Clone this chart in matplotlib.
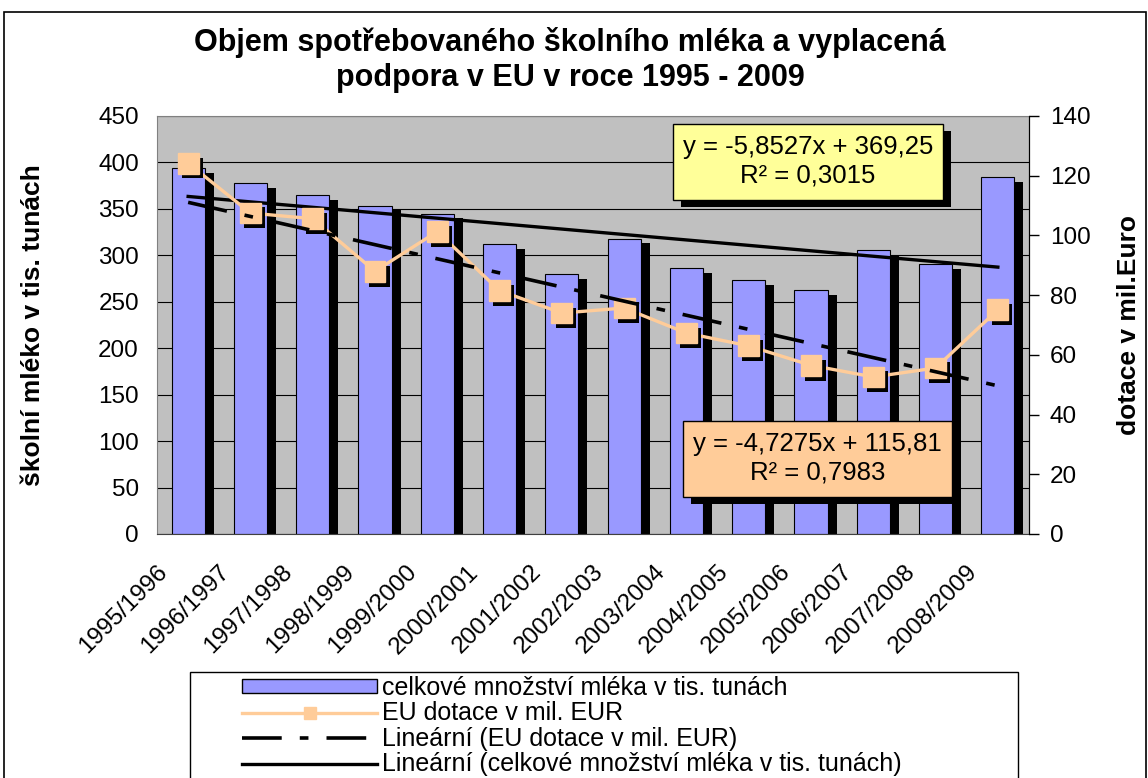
import numpy as np
import matplotlib
matplotlib.use('Agg')
import matplotlib.pyplot as plt
import matplotlib.patheffects as pe
from matplotlib.patches import Rectangle, Patch
from matplotlib.lines import Line2D
from matplotlib.transforms import ScaledTranslation

plt.rcParams['font.family'] = ['Liberation Sans', 'DejaVu Sans']

seasons = ['1995/1996', '1996/1997', '1997/1998', '1998/1999', '1999/2000',
           '2000/2001', '2001/2002', '2002/2003', '2003/2004', '2004/2005',
           '2005/2006', '2006/2007', '2007/2008', '2008/2009']
# school milk volume, thousand tonnes (left axis)
milk = [393.5, 378, 365, 353.6, 345, 312, 280, 318, 286, 273, 262.6, 305.6, 290.6, 384.4]
# EU subsidy, mil. EUR (right axis)
subsidy = [124.2, 107.5, 105.6, 88, 101.3, 81.5, 74, 75.7, 67.3, 63, 56.5, 52.6, 55.6, 75.1]
# linear trends as printed on the chart (slope, intercept, R2)
milk_trend = (-5.8527, 369.25, 0.3015)
subsidy_trend = (-4.7275, 115.81, 0.7983)

labels = ['celkové množství mléka v tis. tunách',
          'EU dotace v mil. EUR',
          'Lineární (EU dotace v mil. EUR)',
          'Lineární (celkové množství mléka v tis. tunách)']

W, H = 1148, 778
fig = plt.figure(figsize=(W / 100, H / 100), dpi=100)


def fx(px):
    return px / W


def fy(py):
    return 1 - py / H


ax = fig.add_axes([fx(157), fy(534), fx(1029) - fx(157), fy(116) - fy(534)])
ax.set_facecolor('#C0C0C0')
ax2 = ax.twinx()

x = np.arange(1, len(seasons) + 1)
dash = (0, (11, 5, 2.4, 5))

ax.bar(x, milk, width=0.53, color='#9999FF', edgecolor='black', linewidth=0.8,
       path_effects=[pe.SimplePatchShadow(offset=(6.5, -3.5), shadow_rgbFace='black', alpha=1.0),
                     pe.Normal()], zorder=2)
ax.plot(x, milk_trend[0] * x + milk_trend[1], color='black', lw=2.4, zorder=3)

ax.set_xlim(0.5, len(seasons) + 0.5)
ax.set_ylim(0, 450)
ax.set_yticks(np.arange(0, 451, 50))
ax.yaxis.grid(True, color='black', lw=0.8)
ax.set_axisbelow(True)
ax.tick_params(axis='y', length=0, labelsize=17.5, pad=13)
ax.set_xticks(x)
ax.set_xticklabels(seasons, rotation=45, ha='right', va='center',
                   rotation_mode='anchor', fontsize=17.5)
ax.tick_params(axis='x', length=0, pad=25)
for lab in ax.get_xticklabels():
    lab.set_transform(lab.get_transform() + ScaledTranslation(-0.24, 0, fig.dpi_scale_trans))
for side in ['left', 'top', 'bottom']:
    ax.spines[side].set_color('#808080')
ax.spines['bottom'].set_color('#404040')
ax.set_ylabel('školní mléko v tis. tunách', fontsize=19, fontweight='bold', labelpad=38)

ax2.plot(x, subsidy, color='#FFCC99', lw=2.4, zorder=2)
ax2.plot(x, subsidy, ls='none', marker='s', ms=15, color='#FFCC99', zorder=3,
         path_effects=[pe.SimplePatchShadow(offset=(3, -3.5), shadow_rgbFace='black', alpha=1.0),
                       pe.Normal()])
ax2.plot(x, subsidy_trend[0] * x + subsidy_trend[1], color='black', lw=2.6, ls=dash, zorder=4)
ax2.set_ylim(0, 140)
ax2.set_yticks(np.arange(0, 141, 20))
ax2.tick_params(axis='y', direction='out', length=7, width=1, labelsize=17.5, pad=8)
ax2.spines['right'].set_color('black')
for side in ['left', 'top', 'bottom']:
    ax2.spines[side].set_visible(False)
ax2.set_ylabel('dotace v mil.Euro', fontsize=19, fontweight='bold', labelpad=19)

# title
fig.text(fx(570), fy(60), 'Objem spotřebovaného školního mléka a vyplacená\npodpora v EU v roce 1995 - 2009',
         ha='center', va='center', fontsize=22, fontweight='bold', linespacing=1.18)


def fmt(v, nd):
    return f'{v:.{nd}f}'.replace('.', ',')


def eq_box(x0, y0, x1, y1, color, slope, icpt, r2):
    fig.add_artist(Rectangle((fx(x0 + 8), fy(y1 + 7)), fx(x1) - fx(x0), fy(y0) - fy(y1),
                             transform=fig.transFigure, color='black', lw=0))
    fig.add_artist(Rectangle((fx(x0), fy(y1)), fx(x1) - fx(x0), fy(y0) - fy(y1),
                             transform=fig.transFigure, facecolor=color, edgecolor='black', lw=1))
    cx = (x0 + x1) / 2
    fig.text(fx(cx), fy(y0 + 23), f'y = {fmt(slope, 4)}x + {fmt(icpt, 2)}',
             ha='center', va='center', fontsize=18.5)
    fig.text(fx(cx), fy(y0 + 52), f'R² = {fmt(r2, 4)}', ha='center', va='center', fontsize=18.5)


eq_box(673, 124, 943, 200, '#FFFF99', *milk_trend)
eq_box(683, 421, 952, 497, '#FFCC99', *subsidy_trend)

# legend
handles = [Patch(facecolor='#9999FF', edgecolor='black', lw=1),
           Line2D([], [], color='#FFCC99', lw=2.4, marker='s', ms=9),
           Line2D([], [], color='black', lw=2.6, ls=dash),
           Line2D([], [], color='black', lw=2.4)]
fig.legend(handles, labels, loc='upper left', bbox_to_anchor=(fx(242), fy(676)),
           bbox_transform=fig.transFigure, frameon=False, fontsize=18,
           handlelength=5.4, handleheight=0.5, handletextpad=0.2, labelspacing=0.06,
           borderaxespad=0, borderpad=0)
fig.add_artist(Rectangle((fx(190), -0.1), fx(1018) - fx(190), fy(672) + 0.1,
                         transform=fig.transFigure, fill=False, ec='black', lw=1))

# chart frame
fig.add_artist(Rectangle((fx(4), -0.1), fx(1146) - fx(4), fy(12) + 0.1,
                         transform=fig.transFigure, fill=False, ec='black', lw=1.2))

fig.savefig('out.png', dpi=100)
